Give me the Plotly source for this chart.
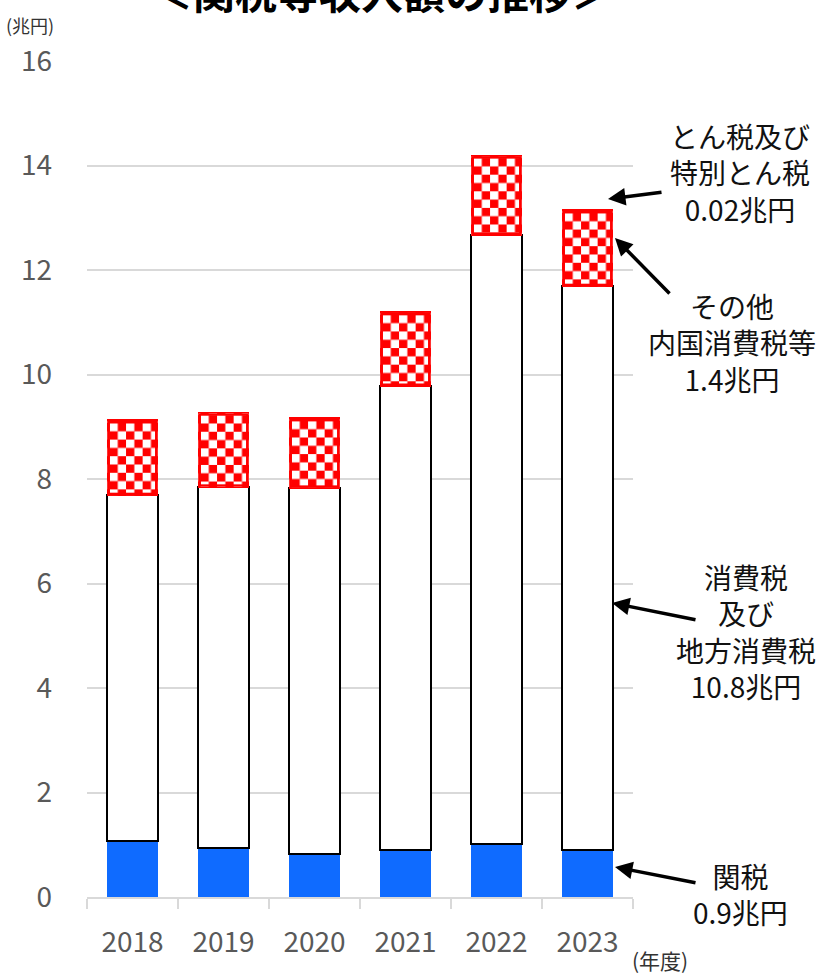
import base64
import plotly.graph_objects as go

# ---- data ----
years = ["2018", "2019", "2020", "2021", "2022", "2023"]
customs = [1.07, 0.94, 0.82, 0.90, 1.01, 0.90]          # 関税
consumption = [6.62, 6.91, 7.01, 8.88, 11.66, 10.79]    # 消費税及び地方消費税
other_internal = [1.42, 1.41, 1.32, 1.40, 1.51, 1.44]   # その他内国消費税等
tonnage = [0.02, 0.02, 0.02, 0.02, 0.02, 0.02]          # とん税及び特別とん税
y_ticks = [0, 2, 4, 6, 8, 10, 12, 14, 16]

# ---- layout geometry ----
W, H = 821, 975
ML, MR, MT, MB = 87, 188, 61, 78
PW, PH = W - ML - MR, H - MT - MB
YMAX = 16
BARW = 0.55
FONT = "Noto Sans CJK JP"

xpos = list(range(len(years)))


def xp(px):
    return (px - ML) / PW


def yp(py):
    return (H - MB - py) / PH


fig = go.Figure()
fig.add_trace(go.Bar(x=xpos, y=customs, width=BARW, name="関税",
                     marker=dict(color="#0F6BFF", line=dict(color="#0F6BFF", width=1))))
fig.add_trace(go.Bar(x=xpos, y=consumption, width=BARW, name="消費税及び地方消費税",
                     marker=dict(color="white", line=dict(color="black", width=2))))
fig.add_trace(go.Bar(x=xpos, y=other_internal, width=BARW, name="その他内国消費税等",
                     marker=dict(color="#FF0000", line=dict(color="#FF0000", width=1.5))))
fig.add_trace(go.Bar(x=xpos, y=tonnage, width=BARW, name="とん税及び特別とん税",
                     marker=dict(color="#FF0000", line=dict(width=0))))

# checkerboard fill for the その他 segment, placed via the axis scales
cell = 8.3
px_per_x = PW / len(years)
px_per_y = PH / YMAX


def checker(w, h):
    svg = (
        f'<svg xmlns="http://www.w3.org/2000/svg" width="{w:.1f}" height="{h:.1f}" '
        f'viewBox="0 0 {w:.1f} {h:.1f}" preserveAspectRatio="none">'
        f'<defs><pattern id="p" x="2" y="2" width="{2*cell}" height="{2*cell}" patternUnits="userSpaceOnUse">'
        f'<rect width="{cell}" height="{cell}" fill="white"/>'
        f'<rect x="{cell}" y="{cell}" width="{cell}" height="{cell}" fill="white"/></pattern></defs>'
        f'<rect width="{w:.1f}" height="{h:.1f}" fill="#FF0000"/>'
        f'<rect width="{w:.1f}" height="{h:.1f}" fill="url(#p)"/>'
        f'<rect x="1.25" y="1.25" width="{w-2.5:.1f}" height="{h-2.5:.1f}" fill="none" stroke="#FF0000" stroke-width="2.5"/>'
        f'</svg>'
    )
    return "data:image/svg+xml;base64," + base64.b64encode(svg.encode()).decode()


images = []
for i in range(len(years)):
    base = customs[i] + consumption[i]
    top = base + other_internal[i]
    images.append(dict(
        source=checker(BARW * px_per_x, other_internal[i] * px_per_y),
        xref="x", yref="y", x=xpos[i] - BARW / 2, y=top,
        sizex=BARW, sizey=other_internal[i],
        xanchor="left", yanchor="top", sizing="stretch", layer="above",
    ))

annotations = []
# title (partly cut off at the top)
annotations.append(dict(text="<b>＜関税等収入額の推移＞</b>", xref="paper", yref="paper",
                        x=xp(382), y=yp(-10), xanchor="center", yanchor="middle",
                        showarrow=False, font=dict(size=42, color="black", family=FONT)))
annotations.append(dict(text="(兆円)", xref="paper", yref="paper", x=xp(30), y=yp(25),
                        xanchor="center", yanchor="middle", showarrow=False,
                        font=dict(size=18, color="#333333", family=FONT)))
annotations.append(dict(text="(年度)", xref="paper", yref="paper", x=xp(660), y=yp(960),
                        xanchor="center", yanchor="middle", showarrow=False,
                        font=dict(size=21, color="#333333", family=FONT)))

labels = [
    ("とん税及び<br>特別とん税<br>0.02兆円", 740, 172),
    ("その他<br>内国消費税等<br>1.4兆円", 732, 342),
    ("消費税<br>及び<br>地方消費税<br>10.8兆円", 746, 631),
    ("関税<br>0.9兆円", 740, 894),
]
for t, cx, cy in labels:
    annotations.append(dict(text=t, xref="paper", yref="paper", x=xp(cx), y=yp(cy),
                            xanchor="center", yanchor="middle", showarrow=False,
                            font=dict(size=28, color="#111111", family=FONT)))

arrows = [
    ((608, 199), (663, 192)),
    ((615, 238), (671, 295)),
    ((612, 603), (697, 620)),
    ((615, 867), (697, 883)),
]
for (hx, hy), (tx, ty) in arrows:
    annotations.append(dict(text="", xref="paper", yref="paper", x=xp(hx), y=yp(hy),
                            ax=tx - hx, ay=ty - hy, showarrow=True, arrowhead=2,
                            arrowsize=1, arrowwidth=3.5, arrowcolor="black"))

fig.update_layout(
    width=W, height=H,
    margin=dict(l=ML, r=MR, t=MT, b=MB, pad=0),
    barmode="stack",
    showlegend=False,
    plot_bgcolor="white", paper_bgcolor="white",
    font=dict(family=FONT, color="#595959"),
    images=images,
    annotations=annotations,
    xaxis=dict(
        range=[-0.5, len(years) - 0.5],
        tickmode="array", tickvals=xpos, ticktext=years,
        ticks="", showgrid=False, zeroline=False,
        showline=True, linecolor="#D9D9D9", linewidth=2,
        tickfont=dict(size=28, color="#595959", family=FONT),
        ticklabelstandoff=19,
        minor=dict(tickmode="linear", tick0=-0.5, dtick=1, ticks="outside",
                   ticklen=10, tickwidth=2, tickcolor="#D9D9D9", showgrid=False),
        fixedrange=True,
    ),
    yaxis=dict(
        range=[0, YMAX], tickmode="array", tickvals=y_ticks,
        ticks="", showgrid=True, gridcolor="#D9D9D9", gridwidth=2,
        zeroline=False, showline=False,
        tickfont=dict(size=28, color="#595959", family=FONT),
        ticklabelstandoff=34,
        fixedrange=True,
    ),
)

fig.write_html("out.html")
